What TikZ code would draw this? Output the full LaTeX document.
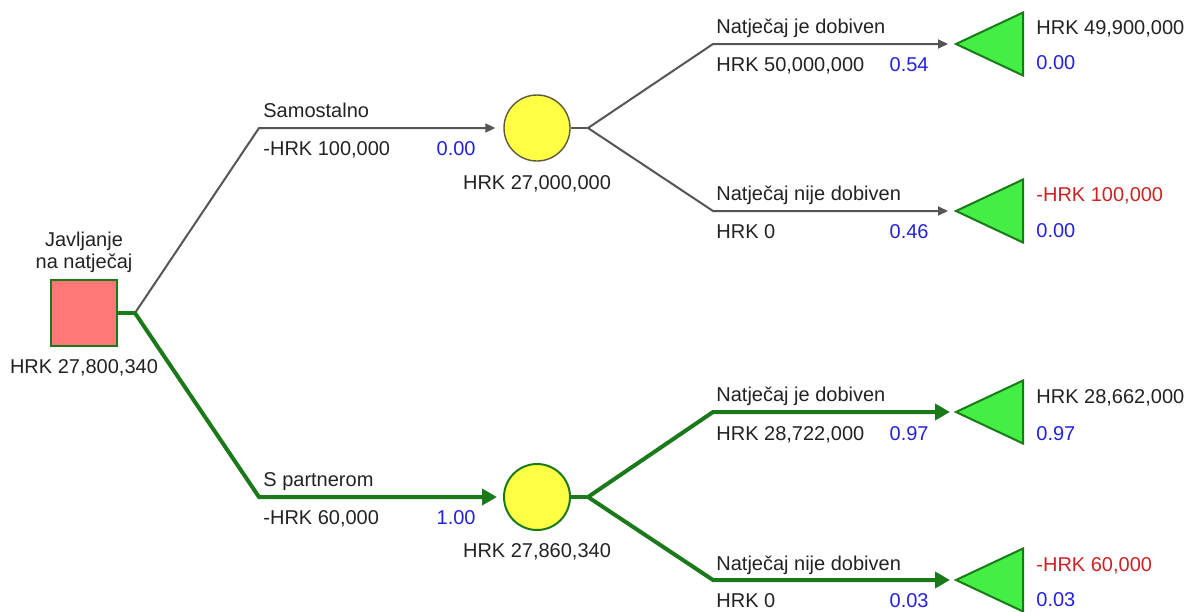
\documentclass[tikz,border=0pt]{standalone}
\usepackage{fontspec}
\setmainfont{Liberation Sans}
\usepackage{tikz}
\usetikzlibrary{arrows.meta,shapes.geometric}

\definecolor{txt}{HTML}{222222}
\definecolor{edgegray}{HTML}{555555}
\definecolor{pathgreen}{HTML}{1A7A1A}
\definecolor{sqred}{HTML}{FF7777}
\definecolor{circyellow}{HTML}{FFFF44}
\definecolor{circgray}{HTML}{5C5C3A}
\definecolor{endgreen}{HTML}{44EE44}
\definecolor{probblue}{HTML}{2222DD}
\definecolor{negred}{HTML}{CC2222}

\begin{document}
\begin{tikzpicture}[x=0.5pt,y=-0.5pt,
    every node/.style={font=\fontsize{10}{11}\selectfont, text=txt},
    lbl/.style={inner sep=0pt, anchor=base west},
    mid/.style={inner sep=0pt, anchor=base},
    prob/.style={inner sep=0pt, anchor=base east, text=probblue},
    chance/.style={draw, circle, fill=circyellow, minimum size=33pt, inner sep=0pt},
    endtri/.style={isosceles triangle, shape border rotate=180, isosceles triangle stretches,
        minimum width=31.5pt, minimum height=33.5pt, inner sep=0pt, outer sep=0pt,
        draw=pathgreen, fill=endgreen, line width=1pt, anchor=apex},
    grayline/.style={draw=edgegray, line width=1pt},
    greenline/.style={draw=pathgreen, line width=2pt},
    grayedge/.style={grayline, -{Triangle[length=5pt,width=4.5pt]}, shorten >=4pt},
    greenedge/.style={greenline, -{Triangle[length=7.5pt,width=8pt]}, shorten >=3pt}]
\useasboundingbox (0,0) rectangle (1189,611);

\node[draw=pathgreen, fill=sqred, line width=1.3pt, minimum size=33pt, inner sep=0pt] (0) at (84,313) {};
\node[mid, align=center] (0t) at (84,268) {Javljanje\\na natječaj};
\node[mid] (0v) at (84,373) {HRK 27,800,340};

\node[chance, draw=circgray, line width=0.7pt] (1) at (537,128) {};
\node[chance, draw=pathgreen, line width=1pt] (2) at (537,497) {};
\node[mid] (1v) at (537,189) {HRK 27,000,000};
\node[mid] (2v) at (537,557.5) {HRK 27,860,340};

\node[endtri] (3) at (956,44) {};
\node[endtri] (4) at (956,211) {};
\node[endtri] (5) at (956,412) {};
\node[endtri] (6) at (956,580) {};

\coordinate (s0) at (135,313);
\coordinate (b1) at (259,128);
\coordinate (b2) at (259,497);
\coordinate (s1) at (588,128);
\coordinate (s2) at (588,497);
\coordinate (b3) at (713,44);
\coordinate (b4) at (713,211);
\coordinate (b5) at (713,412);
\coordinate (b6) at (713,580);

\draw[grayedge] (s0) -- (b1) -- (1);
\draw[grayline] (1) -- (s1);
\draw[grayedge] (s1) -- (b3) -- (3);
\draw[grayedge] (s1) -- (b4) -- (4);
\draw[greenline] (0) -- (s0);
\draw[greenedge] (s0) -- (b2) -- (2);
\draw[greenline] (2) -- (s2);
\draw[greenedge] (s2) -- (b5) -- (5);
\draw[greenedge] (s2) -- (b6) -- (6);

\node[lbl] (l1) at (263,117) {Samostalno};
\node[lbl] (v1) at (263,155.5) {-HRK 100,000};
\node[prob] (p1) at (476,155.5) {0.00};
\node[lbl] (l2) at (263,486) {S partnerom};
\node[lbl] (v2) at (263,524) {-HRK 60,000};
\node[prob] (p2) at (476,524) {1.00};

\node[lbl] (l3) at (716,33) {Natječaj je dobiven};
\node[lbl] (v3) at (716,71.5) {HRK 50,000,000};
\node[prob] (p3) at (929,71.5) {0.54};
\node[lbl] (l4) at (716,200) {Natječaj nije dobiven};
\node[lbl] (v4) at (716,238.5) {HRK 0};
\node[prob] (p4) at (929,238.5) {0.46};
\node[lbl] (l5) at (716,401.5) {Natječaj je dobiven};
\node[lbl] (v5) at (716,440.5) {HRK 28,722,000};
\node[prob] (p5) at (929,440.5) {0.97};
\node[lbl] (l6) at (716,570) {Natječaj nije dobiven};
\node[lbl] (v6) at (716,607) {HRK 0};
\node[prob] (p6) at (929,607) {0.03};

\node[lbl] (r3) at (1036,34) {HRK 49,900,000};
\node[lbl, text=probblue] (q3) at (1036,69.5) {0.00};
\node[lbl, text=negred] (r4) at (1036,201) {-HRK 100,000};
\node[lbl, text=probblue] (q4) at (1036,237) {0.00};
\node[lbl] (r5) at (1036,403) {HRK 28,662,000};
\node[lbl, text=probblue] (q5) at (1036,440) {0.97};
\node[lbl, text=negred] (r6) at (1036,571) {-HRK 60,000};
\node[lbl, text=probblue] (q6) at (1036,606.5) {0.03};
\end{tikzpicture}
\end{document}
